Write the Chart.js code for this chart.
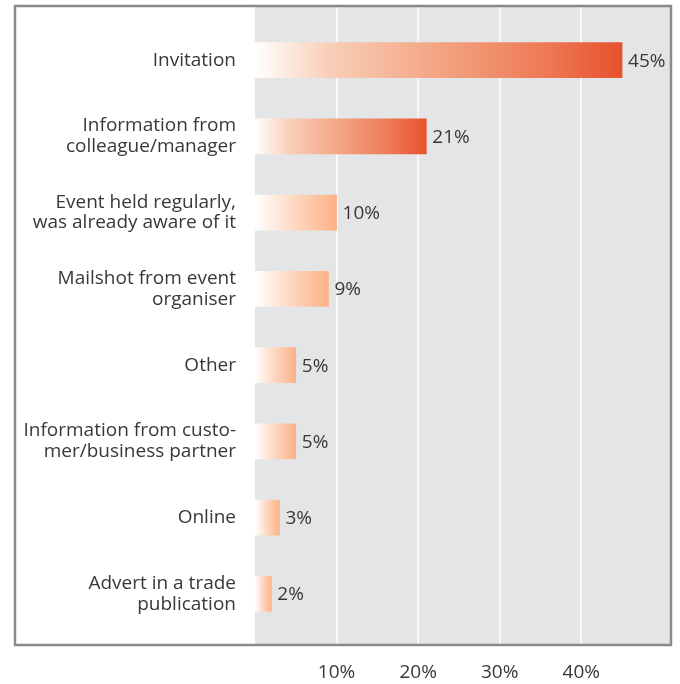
<!DOCTYPE html>
<html>
<head>
<meta charset="utf-8">
<script src="https://cdn.jsdelivr.net/npm/chart.js@4.4.1/dist/chart.umd.min.js"></script>
<style>
  html, body { margin: 0; padding: 0; background: #fff; }
  #wrap { width: 680px; height: 684px; }
</style>
</head>
<body>
<div id="wrap"><canvas id="sourceChart" width="680" height="684"></canvas></div>
<script>
const CATEGORIES = [
  'Invitation',
  ['Information from', 'colleague/manager'],
  ['Event held regularly,', 'was already aware of it'],
  ['Mailshot from event', 'organiser'],
  'Other',
  ['Information from custo-', 'mer/business partner'],
  'Online',
  ['Advert in a trade', 'publication']
];
const SHARES = [45, 21, 10, 9, 5, 5, 3, 2];
const TICK_VALUES = [10, 20, 30, 40];

const TEXT = '#383838';
const PANEL = '#e4e5e7';
const FRAME = '#8a8a8c';
const FONT = '"Open Sans", sans-serif';

// big shares fade white -> red-orange, small ones white -> peach
const DARK_STOPS = [[0, '#ffffff'], [0.2, '#f9cfb8'], [0.5, '#f3a482'], [0.8, '#ed7853'], [1, '#e8512d']];
const LIGHT_STOPS = [[0, '#ffffff'], [0.5, '#fdd6bf'], [1, '#fcb186']];

function barFill(context) {
  const chart = context.chart;
  const area = chart.chartArea;
  if (!area) return '#fcb186';
  const value = context.raw;
  const endX = chart.scales.x.getPixelForValue(value);
  const g = chart.ctx.createLinearGradient(area.left, 0, endX, 0);
  (value > 15 ? DARK_STOPS : LIGHT_STOPS).forEach(([t, c]) => g.addColorStop(t, c));
  return g;
}

// grey panel, white gridlines and the outer frame
const panelPlugin = {
  id: 'panel',
  beforeDraw(chart) {
    const { ctx, chartArea: a, scales } = chart;
    const top = a.top - 15, bottom = a.bottom + 13;
    ctx.save();
    ctx.fillStyle = '#fff';
    ctx.fillRect(0, 0, chart.width, chart.height);
    ctx.fillStyle = PANEL;
    ctx.fillRect(a.left, top, a.right - a.left, bottom - top);
    ctx.strokeStyle = '#f7f7f7';
    ctx.lineWidth = 2;
    TICK_VALUES.forEach(v => {
      const x = Math.round(scales.x.getPixelForValue(v));
      ctx.beginPath();
      ctx.moveTo(x, top);
      ctx.lineTo(x, bottom);
      ctx.stroke();
    });
    ctx.strokeStyle = FRAME;
    ctx.lineWidth = 2.5;
    ctx.strokeRect(15, top - 1, a.right - 15, bottom - top + 1);
    ctx.restore();
  }
};

// percentage next to each bar
const valueLabels = {
  id: 'valueLabels',
  afterDatasetsDraw(chart) {
    const ctx = chart.ctx;
    const meta = chart.getDatasetMeta(0);
    ctx.save();
    ctx.font = '19px ' + FONT;
    ctx.fillStyle = TEXT;
    ctx.textAlign = 'left';
    ctx.textBaseline = 'middle';
    meta.data.forEach((bar, i) => {
      ctx.fillText(SHARES[i] + '%', bar.x + 6, bar.y + 1);
    });
    ctx.restore();
  }
};

new Chart(document.getElementById('sourceChart'), {
  type: 'bar',
  data: {
    labels: CATEGORIES,
    datasets: [{
      data: SHARES,
      backgroundColor: barFill,
      borderWidth: 0,
      barThickness: 35
    }]
  },
  options: {
    indexAxis: 'y',
    responsive: false,
    animation: false,
    layout: { padding: { left: 0, right: 9, top: 22, bottom: 0 } },
    plugins: {
      legend: { display: false },
      tooltip: { enabled: false }
    },
    scales: {
      x: {
        min: 0,
        max: 51,
        afterBuildTicks: scale => { scale.ticks = TICK_VALUES.map(v => ({ value: v })); },
        afterFit: scale => { scale.height = 52; scale.paddingLeft = 0; scale.paddingRight = 0; },
        grid: { display: false, drawTicks: false },
        border: { display: false },
        ticks: {
          padding: 29,
          color: TEXT,
          font: { family: FONT, size: 19 },
          callback: v => v + '%'
        }
      },
      y: {
        afterFit: scale => { scale.width = 255; scale.paddingTop = 0; scale.paddingBottom = 0; },
        grid: { display: false, drawTicks: false },
        border: { display: false },
        ticks: {
          padding: 19,
          color: TEXT,
          font: { family: FONT, size: 19, lineHeight: 1.1 }
        }
      }
    }
  },
  plugins: [panelPlugin, valueLabels]
});
</script>
</body>
</html>
